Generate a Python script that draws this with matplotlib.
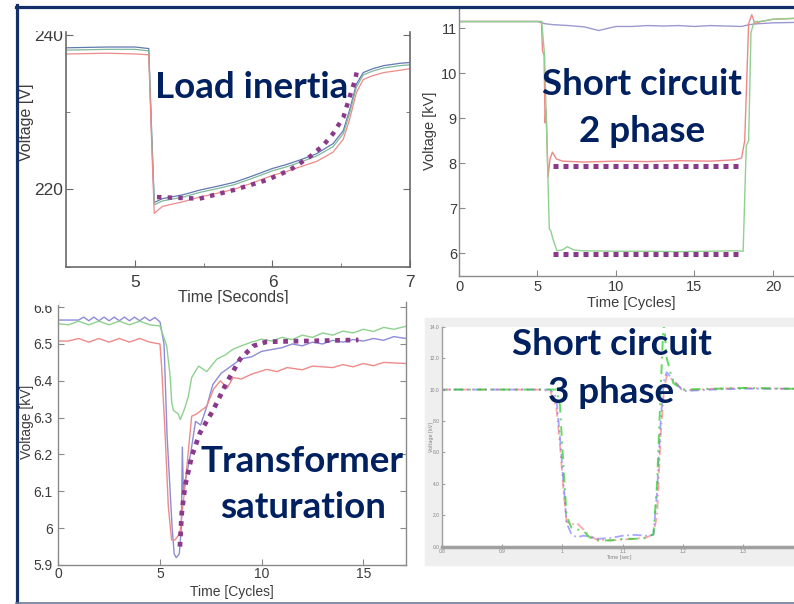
"""
Four voltage-dip cases on one slide: load inertia, 2-phase and 3-phase short
circuits, transformer saturation. Values read off the scanned scope plots.
Output: out.png
"""
import matplotlib

matplotlib.use("Agg")
import matplotlib.pyplot as plt  # noqa: E402
from matplotlib.lines import Line2D  # noqa: E402
from matplotlib.patches import Rectangle  # noqa: E402

W, H = 794, 604
NAVY = "#002060"
PURPLE = "#8B3A8B"
TXT = "#3C3C3C"

# --- load inertia (top left), volts vs seconds
t_load = [4.5, 4.8, 5.0, 5.1, 5.12, 5.14, 5.2, 5.35, 5.47, 5.6, 5.72, 5.85, 6.0,
          6.1, 6.2, 6.32, 6.44, 6.515, 6.56, 6.61, 6.66, 6.73, 6.81, 6.93, 7.0]
v_load_blue = [238.3, 238.4, 238.4, 238.2, 228.0, 218.3, 218.8, 219.3, 219.9, 220.4,
               220.9, 221.7, 222.7, 223.2, 223.8, 224.6, 225.9, 227.6, 230.2, 233.6,
               235.1, 235.6, 236.0, 236.3, 236.4]
v_load_green = [238.0, 238.1, 238.1, 237.9, 227.5, 218.0, 218.5, 219.0, 219.6, 220.1,
                220.6, 221.4, 222.4, 222.9, 223.5, 224.3, 225.5, 227.2, 229.8, 233.2,
                234.8, 235.3, 235.7, 236.0, 236.1]
v_load_red = [237.5, 237.6, 237.5, 237.4, 226.5, 216.9, 217.8, 218.4, 219.0, 219.5,
              220.0, 220.8, 221.8, 222.3, 222.9, 223.6, 224.8, 226.5, 229.0, 232.5,
              234.2, 234.7, 235.1, 235.4, 235.6]
t_load_trend = [5.16, 5.47, 5.715, 5.958, 6.127, 6.27, 6.37, 6.44, 6.515, 6.56, 6.6, 6.62]
v_load_trend = [219.0, 218.8, 219.9, 221.2, 222.5, 224.2, 225.7, 227.2, 229.3, 231.9,
                234.1, 235.8]

# --- 2-phase short circuit (top right), kV vs cycles
t_sc2_blue = [0, 5.0, 5.5, 6, 7, 8, 8.9, 9.5, 10, 11, 12, 13, 14, 15, 16, 17, 18,
              18.5, 19, 20, 21.4]
v_sc2_blue = [11.15, 11.15, 11.1, 11.08, 11.06, 11.03, 10.95, 11.0, 11.04, 11.04,
              11.06, 11.05, 11.06, 11.04, 11.06, 11.05, 11.04, 11.08, 11.1, 11.12, 11.13]
t_sc2_red = [0, 5.25, 5.32, 5.42, 5.48, 5.55, 5.67, 5.8, 5.95, 6.2, 6.6, 8, 10, 12,
             14, 16, 17.6, 18.0, 18.2, 18.45, 18.65, 18.85, 19.2, 20, 21.4]
v_sc2_red = [11.15, 11.15, 10.5, 10.4, 8.9, 9.2, 7.7, 8.1, 8.25, 8.1, 8.05, 8.03,
             8.05, 8.04, 8.06, 8.05, 8.08, 8.12, 8.5, 11.1, 11.3, 11.1, 11.15, 11.2, 11.22]
t_sc2_green = [0, 5.27, 5.45, 5.6, 5.75, 5.85, 6.0, 6.24, 6.6, 6.9, 7.3, 7.8, 10, 12,
               14, 16, 17.5, 18.1, 18.3, 18.45, 18.6, 18.8, 19.2, 20, 21.4]
v_sc2_green = [11.15, 11.15, 10.4, 8.5, 6.55, 6.5, 6.3, 6.06, 6.08, 6.15, 6.08, 6.06,
               6.05, 6.05, 6.04, 6.05, 6.06, 6.05, 8.4, 8.5, 10.9, 11.15, 11.15, 11.2, 11.22]
t_sc2_trend = [5.97, 17.8]
v_sc2_upper = [7.94, 7.94]
v_sc2_lower = [5.98, 5.98]

# --- transformer saturation (bottom left), kV vs cycles
t_sat_blue = [0, 1.0, 1.25, 1.5, 1.75, 2.0, 2.25, 2.5, 2.75, 3.0, 3.25, 3.5, 3.75,
              4.0, 4.25, 4.5, 4.75, 5.0, 5.2, 5.35, 5.5, 5.6, 5.7, 5.8, 5.95, 6.05,
              6.1, 6.15, 6.5, 6.75, 7.0, 7.3, 7.6, 8.0, 8.5, 9.0, 9.5, 10, 10.5, 11,
              11.5, 12, 12.5, 13, 13.5, 14, 14.5, 15, 15.5, 16, 16.5, 17.1]
v_sat_blue = [6.565, 6.565, 6.573, 6.563, 6.573, 6.563, 6.573, 6.563, 6.573, 6.563,
              6.573, 6.563, 6.573, 6.563, 6.573, 6.563, 6.572, 6.56, 6.5, 6.25, 6.1,
              6.0, 5.93, 5.92, 5.93, 6.0, 6.22, 6.1, 6.2, 6.29, 6.28, 6.33, 6.39, 6.42,
              6.44, 6.46, 6.465, 6.48, 6.485, 6.49, 6.5, 6.495, 6.505, 6.5, 6.51,
              6.505, 6.512, 6.508, 6.515, 6.51, 6.52, 6.515]
t_sat_green = [0, 0.5, 1.0, 1.5, 2.0, 2.5, 3.0, 3.5, 4.0, 4.5, 5.0, 5.33, 5.5, 5.58,
               5.66, 5.9, 6.0, 6.23, 6.4, 6.56, 6.9, 7.3, 7.8, 8.2, 8.6, 9.0, 9.5, 10,
               10.5, 11, 11.5, 12, 12.5, 13, 13.5, 14, 14.5, 15, 15.5, 16, 16.5, 17.1]
v_sat_green = [6.555, 6.552, 6.562, 6.552, 6.562, 6.552, 6.562, 6.552, 6.562, 6.552,
               6.549, 6.495, 6.413, 6.34, 6.32, 6.31, 6.295, 6.327, 6.359, 6.409,
               6.44, 6.425, 6.459, 6.47, 6.486, 6.495, 6.505, 6.513, 6.508, 6.518,
               6.512, 6.524, 6.518, 6.53, 6.524, 6.535, 6.53, 6.54, 6.534, 6.545,
               6.54, 6.548]
t_sat_red = [0, 0.5, 1.0, 1.5, 2.0, 2.5, 3.0, 3.5, 4.0, 4.5, 5.0, 5.08, 5.25, 5.41,
             5.57, 5.74, 5.98, 6.23, 6.56, 6.8, 7.3, 7.63, 7.97, 8.3, 8.6, 9.0, 9.5,
             10.25, 10.75, 11.25, 12, 12.5, 13.5, 14, 14.5, 15, 15.5, 16, 17.1]
v_sat_red = [6.508, 6.508, 6.515, 6.505, 6.515, 6.505, 6.515, 6.505, 6.515, 6.505,
             6.5, 6.44, 6.259, 6.06, 5.968, 5.968, 5.986, 6.113, 6.304, 6.31, 6.331,
             6.377, 6.4, 6.38, 6.409, 6.405, 6.418, 6.431, 6.425, 6.436, 6.43,
             6.44, 6.436, 6.444, 6.438, 6.447, 6.441, 6.45, 6.447]
t_sat_trend = [5.98, 6.07, 6.23, 6.56, 6.97, 7.63, 8.28, 8.94, 9.6, 10.25, 14.76]
v_sat_trend = [5.95, 6.04, 6.113, 6.195, 6.259, 6.322, 6.395, 6.459, 6.495, 6.506, 6.511]

# --- 3-phase short circuit (bottom right), kV vs seconds
t_sc3 = [0.8, 0.96, 0.98, 0.99, 0.996, 1.002, 1.007, 1.015, 1.024, 1.035, 1.045,
         1.057, 1.08, 1.1, 1.12, 1.14, 1.151, 1.157, 1.163, 1.168, 1.173, 1.184,
         1.2, 1.25, 1.3, 1.384]
v_sc3_red = [10, 10, 9.9, 8.9, 6.5, 3.5, 1.6, 1.4, 1.5, 1.1, 0.7, 0.45, 0.4, 0.45,
             0.5, 0.6, 0.8, 2.0, 7.0, 9.8, 10.9, 10.6, 9.95, 10.05, 10.1, 10.05]
v_sc3_blue = [10, 10, 10, 9.5, 7.0, 4.0, 1.5, 0.8, 0.6, 0.7, 0.65, 0.5, 0.55, 0.7,
              0.75, 0.7, 0.75, 3.5, 8.0, 10.5, 11.1, 10.6, 9.9, 10.0, 10.05, 10.05]
v_sc3_green = [10, 10, 10, 10, 9.0, 5.0, 2.0, 1.2, 1.1, 1.0, 0.6, 0.4, 0.4, 0.5,
               0.5, 0.55, 0.8, 4.0, 10.0, 14.5, 12.0, 10.4, 10.0, 10.05, 10.1, 10.05]


def box(x0, y0, x1, y1):
    """pixel box (top-left origin) -> figure rect"""
    return [x0 / W, 1 - y1 / H, (x1 - x0) / W, (y1 - y0) / H]


def ftext(x, y, s, **kw):
    fig.text(x / W, 1 - y / H, s, **kw)


def blank(x0, y0, x1, y1):
    # white strip = where the pasted screenshot was cropped
    fig.add_artist(Rectangle((x0 / W, 1 - y1 / H), (x1 - x0) / W, (y1 - y0) / H,
                             transform=fig.transFigure, color="white", zorder=4))


def style(ax, spine_col, size, right=False, lw=1.0):
    for side in ("top", "right"):
        ax.spines[side].set_visible(False)
    if right:
        ax.spines["right"].set_visible(True)
    for sp in ax.spines.values():
        sp.set_color(spine_col)
        sp.set_linewidth(lw)
    ax.tick_params(which="both", direction="in", colors=spine_col, labelcolor=TXT,
                   labelsize=size, right=right, labelright=False, top=False)
    for lab in ax.get_xticklabels() + ax.get_yticklabels():
        lab.set_family("Liberation Sans")


fig = plt.figure(figsize=(W / 100, H / 100), dpi=100)
fig.patch.set_facecolor("white")

# ---- panel 1: load inertia
ax1 = fig.add_axes(box(66.25, 30, 410, 266.7))
ax1.plot(t_load, v_load_blue, color="#6079B0", lw=0.9)
ax1.plot(t_load, v_load_green, color="#80B89C", lw=0.9)
ax1.plot(t_load, v_load_red, color="#EC8A8A", lw=0.9)
ax1.plot(t_load_trend, v_load_trend, color=PURPLE, lw=3.2, ls=(0, (1, 1.4)),
         solid_capstyle="butt", zorder=5)
ax1.set_xlim(4.5, 7)
ax1.set_ylim(210, 240.6)
ax1.set_xticks([5, 6, 7])
ax1.set_xticks([5.5, 6.5], minor=True)
ax1.set_yticks([220, 240])
ax1.set_yticks([210, 230], minor=True)
style(ax1, "#6A6A6A", 12.5, right=True, lw=1.2)
ax1.tick_params(which="major", length=5)
ax1.tick_params(which="minor", length=3)
ax1.tick_params(axis="x", pad=6)
ax1.tick_params(axis="y", pad=2)
ftext(233, 297.5, "Time [Seconds]", ha="center", va="center", fontsize=11.5,
      color=TXT, family="Liberation Sans", zorder=3)
ftext(26.7, 122.5, "Voltage [V]", ha="center", va="center", rotation=90,
      fontsize=11.5, color=TXT, family="Liberation Sans")

# ---- panel 2: 2-phase short circuit
ax2 = fig.add_axes(box(459, 8, 794, 276))
ax2.plot(t_sc2_blue, v_sc2_blue, color="#9A9AD0", lw=1.0)
ax2.plot(t_sc2_red, v_sc2_red, color="#EE8888", lw=1.0)
ax2.plot(t_sc2_green, v_sc2_green, color="#90D090", lw=1.0)
for lvl in (v_sc2_upper, v_sc2_lower):
    ax2.plot(t_sc2_trend, lvl, color=PURPLE, lw=3.6, ls=(0, (1, 1)),
             solid_capstyle="butt", zorder=5)
ax2.set_xlim(0, 21.34)
ax2.set_ylim(5.5, 11.45)
ax2.set_xticks([0, 5, 10, 15, 20])
ax2.set_yticks([6, 7, 8, 9, 10, 11])
style(ax2, "#8A8A8A", 10.5)
ax2.tick_params(length=4)
ax2.tick_params(axis="x", pad=3)
ax2.tick_params(axis="y", pad=1.5)
ftext(631, 303.3, "Time [Cycles]", ha="center", va="center", fontsize=10.5,
      color=TXT, family="Liberation Sans")
ftext(430, 131, "Voltage [kV]", ha="center", va="center", rotation=90,
      fontsize=10.5, color=TXT, family="Liberation Sans")

# ---- panel 3: transformer saturation
ax3 = fig.add_axes(box(58.3, 302, 406, 565))
ax3.set_facecolor("white")
ax3.plot(t_sat_blue, v_sat_blue, color="#8C8CD8", lw=1.0)
ax3.plot(t_sat_green, v_sat_green, color="#8FD18F", lw=1.0)
ax3.plot(t_sat_red, v_sat_red, color="#EE8A8A", lw=1.0)
ax3.plot(t_sat_trend, v_sat_trend, color=PURPLE, lw=3.4, ls=(0, (1, 1.2)),
         solid_capstyle="butt", zorder=5)
ax3.set_xlim(0, 17.1)
ax3.set_ylim(5.9, 6.614)
ax3.set_xticks([0, 5, 10, 15])
ax3.set_yticks([5.9, 6.0, 6.1, 6.2, 6.3, 6.4, 6.5, 6.6])
ax3.set_yticklabels(["5.9", "6", "6.1", "6.2", "6.3", "6.4", "6.5", "6.6"])
style(ax3, "#8A8A8A", 10, right=True)
ax3.tick_params(length=4)
ax3.tick_params(axis="x", pad=1.5)
ax3.tick_params(axis="y", pad=4)
ftext(231.7, 591.7, "Time [Cycles]", ha="center", va="center", fontsize=10,
      color=TXT, family="Liberation Sans")
ftext(26.7, 421.7, "Voltage [kV]", ha="center", va="center", rotation=90,
      fontsize=10, color=TXT, family="Liberation Sans")

# ---- panel 4: 3-phase short circuit (small embedded screenshot)
fig.add_artist(Rectangle((425 / W, 1 - 565 / H), (W - 425) / W, (565 - 318) / H,
                         transform=fig.transFigure, color="#EFEFEF", zorder=-1))
ax4 = fig.add_axes(box(441.7, 326.7, 794, 546.7))
ax4.plot(t_sc3, v_sc3_red, color="#FF6060", lw=1.3, ls=(0, (5, 2, 1, 2)), alpha=0.55)
ax4.plot(t_sc3, v_sc3_blue, color="#6060FF", lw=1.3, ls=(3, (5, 2, 1, 2)), alpha=0.55)
ax4.plot(t_sc3, v_sc3_green, color="#30D030", lw=1.4, ls=(6, (5, 3, 1, 3)), alpha=0.75)
ax4.set_xlim(0.8, 1.384)
ax4.set_ylim(0, 14)
ax4.set_xticks([0.8, 0.9, 1.0, 1.1, 1.2, 1.3])
ax4.set_xticklabels(["0.8", "0.9", "1", "1.1", "1.2", "1.3"])
ax4.set_yticks([0, 2, 4, 6, 8, 10, 12, 14])
ax4.set_yticklabels(["0.0", "2.0", "4.0", "6.0", "8.0", "10.0", "12.0", "14.0"])
style(ax4, "#A0A0A0", 3.5)
ax4.spines["bottom"].set_linewidth(2.5)
ax4.tick_params(length=2, pad=1.5, labelcolor="#808080")
ftext(619, 556.7, "Time [sec]", ha="center", va="center", fontsize=3.5,
      color="#808080")
ftext(431.7, 436.7, "Voltage [kV]", ha="center", va="center", rotation=90,
      fontsize=3.5, color="#808080")

# crops of the pasted screenshots
blank(18, 8.5, 415, 29.5)
blank(18, 290, 58, 304)
blank(160, 303.5, 300, 308)

# slide frame
fig.add_artist(Line2D([16.5 / W, 16.5 / W], [1 - 604 / H, 1 - 5 / H],
                      color="#14306B", lw=2.3, zorder=6))
fig.add_artist(Line2D([15.5 / W, 1], [1 - 6.5 / H, 1 - 6.5 / H],
                      color="#14306B", lw=2.3, zorder=6))
fig.add_artist(Line2D([15.5 / W, 1], [1 - 602.5 / H, 1 - 602.5 / H],
                      color="#6A7A9C", lw=1.2, zorder=6))

# callouts
big = dict(ha="center", va="baseline", color=NAVY, fontsize=26.5,
           fontweight="bold", family="Lato", zorder=7)
ftext(251.5, 98.3, "Load inertia", **big)
ftext(641.7, 95, "Short circuit", **big)
ftext(641.7, 141.7, "2 phase", **big)
ftext(301.7, 471.7, "Transformer", **big)
ftext(302.5, 518.3, "saturation", **big)
ftext(611.7, 355, "Short circuit", **big)
ftext(610.8, 403.3, "3 phase", **big)

fig.savefig("out.png", dpi=100, facecolor="white")
